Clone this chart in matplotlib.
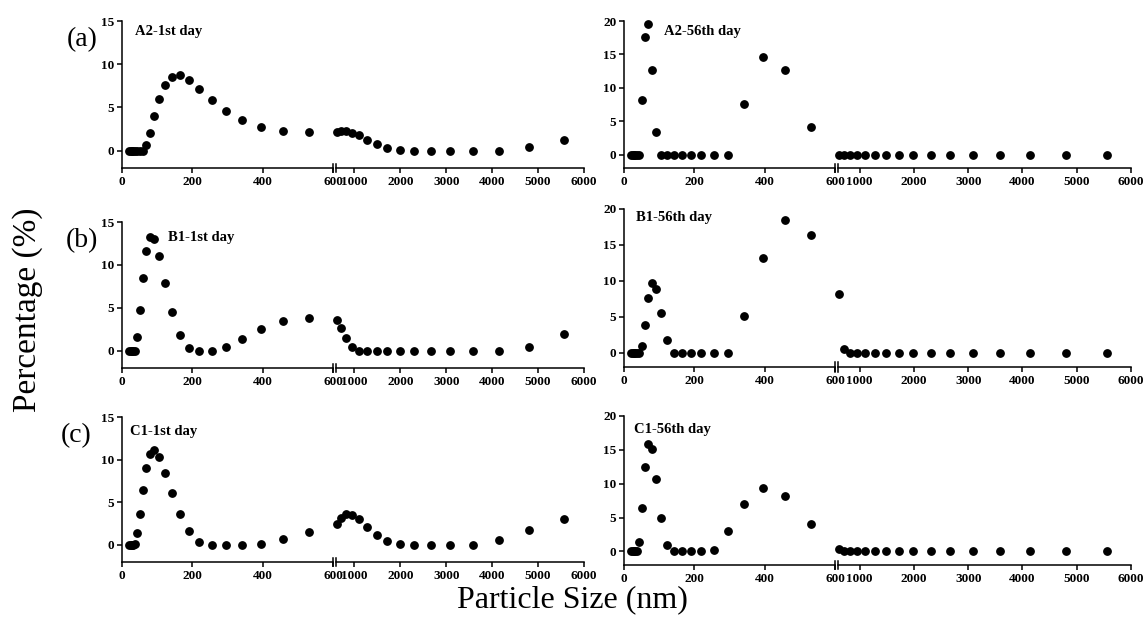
import numpy as np
import matplotlib
matplotlib.use("Agg")
import matplotlib.pyplot as plt

plt.rcParams['font.family'] = ['Liberation Serif', 'DejaVu Serif']

W, H = 1148, 618

# DLS size bins (nm), split at the axis break
sizes_low = [21.04, 24.36, 28.21, 32.67, 37.84, 43.82, 50.75, 58.77, 68.06, 78.82,
             91.28, 105.7, 122.4, 141.8, 164.2, 190.1, 220.2, 255.0, 295.3, 342.0,
             396.1, 458.7, 531.2]
sizes_high = [615.1, 712.4, 825.0, 955.4, 1106, 1281, 1484, 1718, 1990, 2305,
              2669, 3091, 3580, 4145, 4801, 5560]

a2_1st_low = [0, 0, 0, 0, 0, 0, 0, 0, 0.65, 2.1, 4.0, 6.0, 7.6, 8.5, 8.7, 8.2, 7.15,
              5.9, 4.6, 3.55, 2.75, 2.3, 2.15]
a2_1st_high = [2.15, 2.27, 2.27, 2.1, 1.77, 1.27, 0.77, 0.35, 0.08, 0, 0, 0, 0, 0,
               0.42, 1.2]
a2_56th_low = [0, 0, 0, 0, 0, 0, 8.2, 17.6, 19.6, 12.6, 3.35, 0, 0, 0, 0, 0, 0, 0, 0,
               7.6, 14.55, 12.65, 4.2]
a2_56th_high = [0] * 16
b1_1st_low = [0, 0, 0, 0, 0, 1.65, 4.8, 8.5, 11.65, 13.3, 13.0, 11.0, 7.85, 4.5, 1.85,
              0.38, 0, 0, 0.48, 1.4, 2.55, 3.5, 3.85]
b1_1st_high = [3.6, 2.62, 1.45, 0.48, 0, 0, 0, 0, 0, 0, 0, 0, 0, 0, 0.45, 1.95]
b1_56th_low = [0, 0, 0, 0, 0, 0, 0.93, 3.9, 7.6, 9.75, 8.85, 5.5, 1.75, 0, 0, 0, 0, 0,
               0, 5.1, 13.2, 18.4, 16.4]
b1_56th_high = [8.2, 0.5, 0, 0, 0, 0, 0, 0, 0, 0, 0, 0, 0, 0, 0, 0]
c1_1st_low = [0, 0, 0, 0.05, 0.15, 1.38, 3.62, 6.4, 8.97, 10.7, 11.1, 10.3, 8.45, 6.05,
              3.6, 1.62, 0.4, 0, 0, 0, 0.16, 0.67, 1.5]
c1_1st_high = [2.4, 3.2, 3.6, 3.48, 3.0, 2.1, 1.2, 0.47, 0.08, 0, 0, 0, 0, 0.55, 1.7,
               3.08]
c1_56th_low = [0, 0, 0, 0, 0, 1.38, 6.35, 12.4, 15.9, 15.15, 10.65, 4.93, 0.89, 0, 0,
               0, 0, 0.15, 2.96, 7.0, 9.42, 8.18, 4.09]
c1_56th_high = [0.32] + [0] * 15

titles = ['A2-1st day', 'A2-56th day', 'B1-1st day', 'B1-56th day',
          'C1-1st day', 'C1-56th day']
letters = ['(a)', '(b)', '(c)']

series = [(a2_1st_low, a2_1st_high), (a2_56th_low, a2_56th_high),
          (b1_1st_low, b1_1st_high), (b1_56th_low, b1_56th_high),
          (c1_1st_low, c1_1st_high), (c1_56th_low, c1_56th_high)]

low_ticks = [0, 200, 400, 600]
high_ticks = [1000, 2000, 3000, 4000, 5000, 6000]

# pixel layout: (x0, xbreak, x1) per column, (ytop, ybottom) per row/column
cols = [(122, 333, 584), (624, 835, 1131)]
rows = [[(21, 168), (21, 168)],
        [(222, 368), (209, 367)],
        [(417, 562), (416, 565)]]
title_pos = [(135, 31), (664, 32), (168, 237), (636, 218), (130, 432), (634, 430)]
letter_pos = [(82, 40), (82, 241), (76, 436)]

fig = plt.figure(figsize=(W / 100, H / 100), dpi=100)


def px_axes(x0, x1, ytop, ybot):
    return fig.add_axes([x0 / W, 1 - ybot / H, (x1 - x0) / W, (ybot - ytop) / H])


def style(ax):
    for s in ax.spines.values():
        s.set_linewidth(1.1)
    ax.tick_params(direction='out', length=3.5, width=1.1, labelsize=9.5, pad=2)
    for lab in ax.get_xticklabels() + ax.get_yticklabels():
        lab.set_fontweight('bold')


for i, (low, high) in enumerate(series):
    r, c = divmod(i, 2)
    x0, xb, x1 = cols[c]
    ytop, ybot = rows[r][c]
    ymax = 15 if c == 0 else 20
    yt = [0, 5, 10, 15] if c == 0 else [0, 5, 10, 15, 20]

    axl = px_axes(x0, xb, ytop, ybot)
    axr = px_axes(xb + 3, x1, ytop, ybot)

    axl.plot(sizes_low, low, 'o', color='black', ms=5.3, clip_on=False)
    axr.plot(sizes_high, high, 'o', color='black', ms=5.3, clip_on=False)

    axl.set_xlim(0, 600)
    axr.set_xlim(600, 6000)
    for ax in (axl, axr):
        ax.set_ylim(-2, ymax)
        ax.spines['top'].set_visible(False)
        ax.spines['right'].set_visible(False)
    axl.set_xticks(low_ticks)
    axr.set_xticks(high_ticks)
    axl.set_yticks(yt)
    axr.spines['left'].set_visible(False)
    axr.set_yticks([])
    style(axl)
    style(axr)

    # break marks
    axl.plot([1, 1], [-0.03, 0.03], color='black', lw=1.1,
             transform=axl.transAxes, clip_on=False)
    axr.plot([0, 0], [-0.03, 0.03], color='black', lw=1.1,
             transform=axr.transAxes, clip_on=False)

    tx, ty = title_pos[i]
    fig.text(tx / W, 1 - ty / H, titles[i], fontsize=10.5, fontweight='bold',
             ha='left', va='center')

for j, lab in enumerate(letters):
    lx, ly = letter_pos[j]
    fig.text(lx / W, 1 - ly / H, lab, fontsize=20, ha='center', va='center')

fig.text(28 / W, 1 - 310 / H, 'Percentage (%)', fontsize=24, rotation=90,
         ha='center', va='center')
fig.text(572 / W, 1 - 600 / H, 'Particle Size (nm)', fontsize=23,
         ha='center', va='center')

fig.savefig('out.png', dpi=100)
